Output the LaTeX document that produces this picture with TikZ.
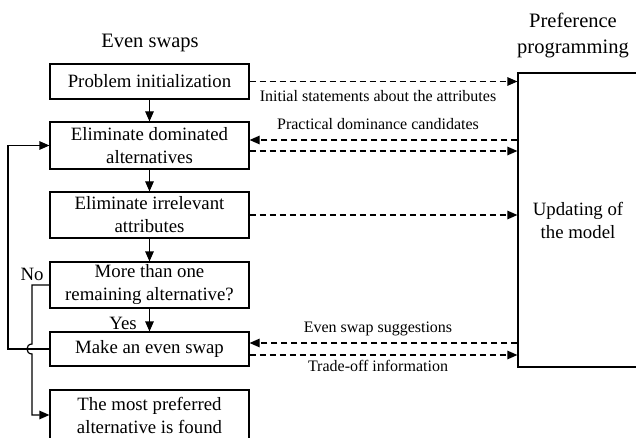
\documentclass[tikz,border=0pt]{standalone}
\usepackage{fontspec}
\setmainfont{Liberation Serif}
\usetikzlibrary{arrows.meta,calc}

\tikzset{
	box/.style={draw, line width=1.2pt, minimum width=199pt, inner sep=0pt, align=center, font=\fontsize{18.8}{23}\selectfont},
	lbl/.style={font=\fontsize{16}{19}\selectfont},
	ttl/.style={align=center, font=\fontsize{20.5}{26}\selectfont},
	arr/.style={line width=1.2pt, -{Triangle[length=10pt,width=8.5pt]}},
	darr/.style={arr, dash pattern=on 6pt off 4pt},
}

\begin{document}
\begin{tikzpicture}[x=1pt, y=-1pt]
		\useasboundingbox (0, 0) rectangle (636, 438);
		\node[ttl] (es) at (150, 43) {Even swaps};
		\node[ttl] (pt) at (573, 35) {Preference\\programming};
		% even swaps column
		\node[box, minimum height=35pt] (b1) at (149.5, 81.5) {Problem initialization};
		\node[box, minimum height=47pt] (b2) at (149.5, 145.5) {Eliminate dominated\\alternatives};
		\node[box, minimum height=46pt] (b3) at (149.5, 215) {Eliminate irrelevant\\attributes};
		\node[box, minimum height=46pt] (b4) at (149.5, 285) {More than one\\remaining alternative?};
		\node[box, minimum height=34pt] (b5) at (149.5, 349) {Make an even swap};
		\node[box, minimum height=50pt] (b6) at (149.5, 415) {The most preferred\\alternative is found};
		% preference programming
		\node[box, minimum width=120pt, minimum height=294pt] (pp) at (578, 220) {Updating of\\the model};
		\node[box, draw=none, minimum width=0pt] (no) at (32, 274) {No};
		\node[box, draw=none, minimum width=0pt] (yes) at (123, 323) {Yes};
		\draw[arr] (b1.south) to (b2.north);
		\draw[arr] (b2.south) to (b3.north);
		\draw[arr] (b3.south) to (b4.north);
		\draw[arr] (b4.south) to (b5.north);
		\draw[arr] (b5.west) -- (8, 349) |- (b2.west); %loop back
		\draw[arr] (b4.west) -- (32, 285) -- (32, 344) .. controls (25.3, 344) and (25.3, 354) .. (32, 354) |- (b6.west); %hop
		% dashed links
		\draw[darr] (b1.east) to (b1.east -| pp.west);
		\node[lbl] (l1) at (378, 96) {Initial statements about the attributes};
		\draw[darr] ([yshift=5.5pt]b2.east -| pp.west) to ([yshift=5.5pt]b2.east);
		\draw[darr] ([yshift=-5.5pt]b2.east) to ([yshift=-5.5pt]b2.east -| pp.west);
		\node[lbl] (l2) at (378, 124) {Practical dominance candidates};
		\draw[darr] (b3.east) to (b3.east -| pp.west);
		\draw[darr] ([yshift=6pt]b5.east -| pp.west) to ([yshift=6pt]b5.east);
		\draw[darr] ([yshift=-6pt]b5.east) to ([yshift=-6pt]b5.east -| pp.west);
		\node[lbl] (l3) at (378, 329) {Even swap suggestions};
		\node[lbl] (l4) at (378, 366) {Trade-off information};
\end{tikzpicture}
\end{document}
